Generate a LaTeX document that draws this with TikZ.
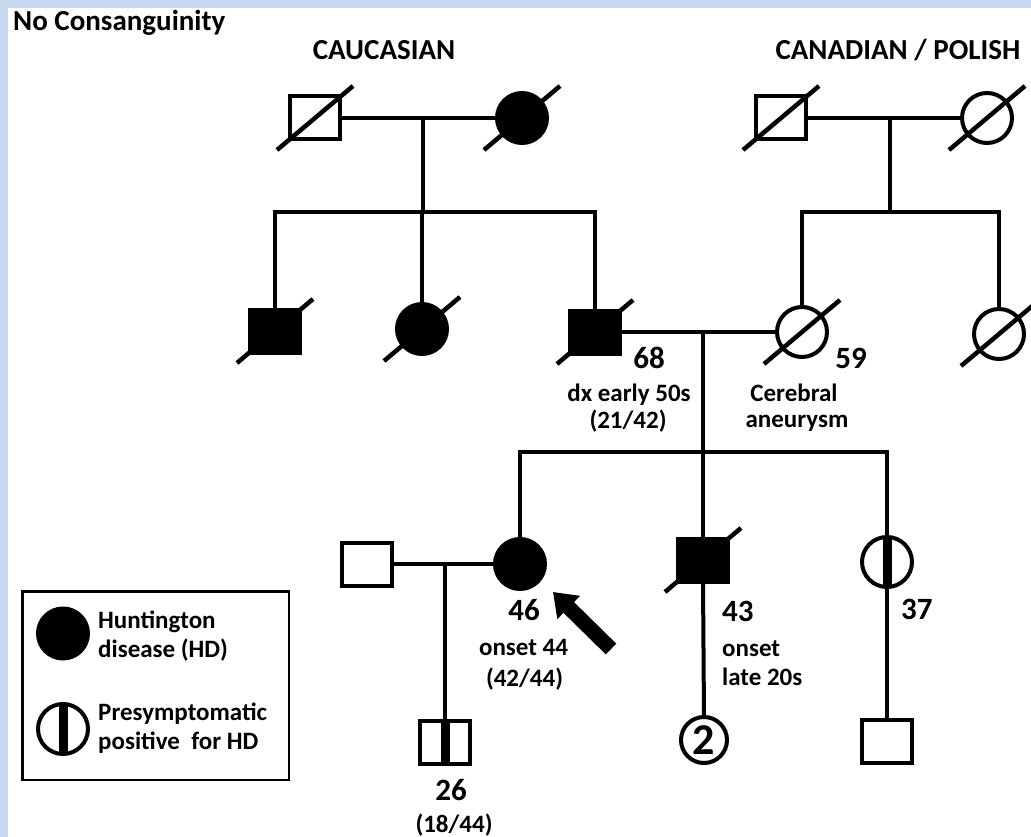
\documentclass[tikz,border=0pt]{standalone}
\usepackage{fontspec}
\setmainfont{Carlito}
\usetikzlibrary{arrows.meta,calc}
\definecolor{frameblue}{RGB}{198,217,241}
\newcommand\deadmark[1]{\draw[slashline] ([shift={(-38,32)}]#1.center) -- ([shift={(38,-32)}]#1.center);}
\newcommand\presymbar[1]{\fill ([xshift=-4.5pt]#1.north) rectangle ([xshift=4.5pt]#1.south);}
\begin{document}
\begin{tikzpicture}[x=1pt,y=-1pt,
  base/.style={draw, line width=4pt, inner sep=0pt, outer sep=0pt},
  male/.style={base, rectangle, minimum width=50pt, minimum height=43pt},
  female/.style={base, circle, minimum size=50pt},
  aff/.style={fill=black},
  rel/.style={line width=4pt},
  slashline/.style={line width=4.5pt},
  title/.style={font=\bfseries\fontsize{29}{34}\selectfont, inner sep=0pt},
  lbl/.style={font=\bfseries\fontsize{25}{29}\selectfont, inner sep=0pt},
  num/.style={font=\bfseries\fontsize{31}{36}\selectfont, inner sep=0pt},
  bigarrow/.style={line width=15pt, -{Triangle[width=31pt,length=22pt]}}
]
\useasboundingbox (0,0) rectangle (1031,837);
\fill[frameblue] (0,0) rectangle (1031,837);
\fill[white] (8,8) rectangle (1031,837);

% titles
\node[title, anchor=base west] (nocons) at (13,31) {No Consanguinity};
\node[title, anchor=base] (cauc) at (384,60) {CAUCASIAN};
\node[title, anchor=base] (canpol) at (898,60) {CANADIAN / POLISH};

% generation I
\node[male] (GF1) at (315,118) {};
\node[female, aff] (GM1) at (522,118) {};
\node[male] (GF2) at (781,118) {};
\node[female] (GM2) at (987,118) {};
\deadmark{GF1} \deadmark{GM1} \deadmark{GF2} \deadmark{GM2}

% generation II
\node[male, aff] (A1) at (275,331) {};
\node[female, aff] (A2) at (422,329) {};
\node[male, aff] (F) at (595,332) {};
\node[female] (M) at (802,332) {};
\node[female] (B) at (999,334) {};
\deadmark{A1} \deadmark{A2} \deadmark{F} \deadmark{M} \deadmark{B}

% generation III
\node[male] (H) at (367,564) {};
\node[female, aff] (P) at (520,564) {};
\node[male, aff] (S) at (703,560) {};
\node[female] (T) at (887,562) {};
\presymbar{T}
\deadmark{S}

% generation IV
\node[male] (C) at (445,742) {};
\presymbar{C}
\node[female, font=\bfseries\fontsize{44}{44}\selectfont, minimum size=46pt] (Two) at (704,740) {2};
\node[male] (TC) at (887,741) {};

% coordinates
\coordinate (m1) at (423,118);
\coordinate (s1) at (423,212);
\coordinate (m2) at (890,118);
\coordinate (s2) at (890,212);
\coordinate (m3) at (703,332);
\coordinate (s3) at (703,452);
\coordinate (m4) at (445,564);

% connectors
\draw[rel] (GF1.east) -- (GM1.west);
\draw[rel] (m1) -- (s1);
\draw[rel] (A1.north) |- (s1) -| (F.north);
\draw[rel] (A2.north) -- (A2.north |- s1);
\draw[rel] (GF2.east) -- (GM2.west);
\draw[rel] (m2) -- (s2);
\draw[rel] (M.north) |- (s2) -| (B.north);
\draw[rel] (F.east) -- (M.west);
\draw[rel] (m3) -- (S.north);
\draw[rel] (P.north) |- (s3) -| (T.north);
\draw[rel] (H.east) -- (P.west);
\draw[rel] (m4) -- (C.north);
\draw[rel] (S.south) -- (Two.north);
\draw[rel] (T.south) -- (TC.north);

% labels
\node[num, anchor=base] (l68) at (649,368) {68};
\node[lbl, anchor=base] (ldx) at (629,401) {dx early 50s};
\node[lbl, anchor=base] (l2142) at (628,428) {(21/42)};
\node[num, anchor=base] (l59) at (851,368) {59};
\node[lbl, anchor=base] (lcer) at (794,401) {Cerebral};
\node[lbl, anchor=base] (lane) at (797,427) {aneurysm};
\node[num, anchor=base] (l46) at (524,620) {46};
\node[lbl, anchor=base] (lon44) at (523.5,655) {onset 44};
\node[lbl, anchor=base] (l4244) at (524.5,686) {(42/44)};
\node[num, anchor=base west] (l43) at (722,621) {43};
\node[lbl, anchor=base west] (lonset) at (722,656) {onset};
\node[lbl, anchor=base west] (llate) at (722,685) {late 20s};
\node[num, anchor=base west] (l37) at (901,619) {37};
\node[num, anchor=base] (l26) at (451,800) {26};
\node[lbl, anchor=base] (l1844) at (454,832) {(18/44)};

% proband arrow
\coordinate (arrtail) at (611,649);
\coordinate (arrtip) at (553,592);
\draw[bigarrow] (arrtail) -- (arrtip);

% legend
\node[draw, line width=2.5pt, minimum width=266.5pt, minimum height=188.5pt, inner sep=0pt] (legend) at (155.5,685.5) {};
\node[female, aff, minimum size=50pt] (LC1) at (63,633.5) {};
\node[female, minimum size=50pt] (LC2) at (63,729) {};
\presymbar{LC2}
\node[lbl, anchor=base west] (lg1) at (98,628) {Huntington};
\node[lbl, anchor=base west] (lg2) at (98,657) {disease (HD)};
\node[lbl, anchor=base west] (lg3) at (98,720) {Presymptomatic};
\node[lbl, anchor=base west] (lg4) at (98,749) {positive\ \ for HD};
\end{tikzpicture}
\end{document}
